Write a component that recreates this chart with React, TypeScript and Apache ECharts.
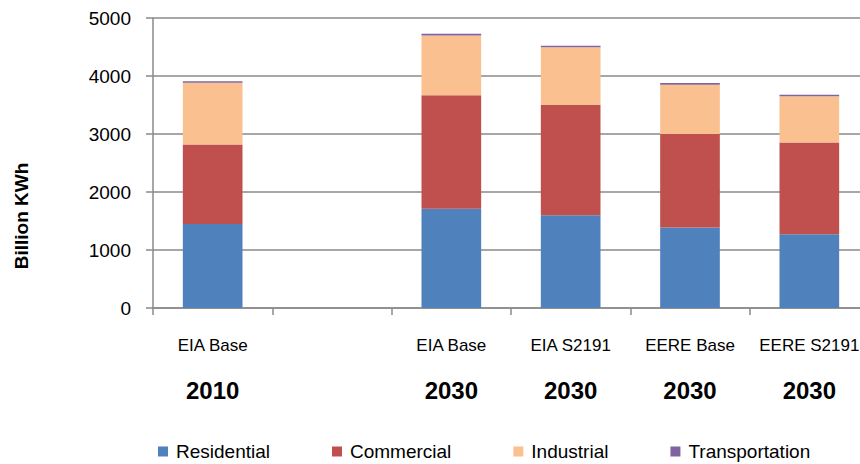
import React, { useEffect, useRef } from "react";
import * as echarts from "echarts";

const scenarios = ["EIA Base", "", "EIA Base", "EIA S2191", "EERE Base", "EERE S2191"];
const years = ["2010", "", "2030", "2030", "2030", "2030"];
const residential = [1450, null, 1710, 1600, 1390, 1270];
const commercial = [1370, null, 1960, 1900, 1610, 1585];
const industrial = [1065, null, 1030, 995, 850, 795];
const transportation = [25, null, 28, 28, 28, 25];
const yTicks = { min: 0, max: 5000, interval: 1000 };

const FONT = "'Liberation Sans', Arial, sans-serif";
const GRID_COLOR = "#8a8a8a";

export default function App() {
  const ref = useRef<HTMLDivElement>(null);
  useEffect(() => {
    if (!ref.current) return;
    const chart = echarts.init(ref.current, null, { renderer: "svg" });
    const mk = (name: string, data: (number | null)[], color: string) => ({
      name,
      type: "bar",
      stack: "total",
      barWidth: "50%",
      data,
      itemStyle: { color },
    });
    chart.setOption({
      animation: false,
      textStyle: { fontFamily: FONT },
      grid: {
        left: 153,
        top: 18,
        width: 716,
        height: 290,
        containLabel: false,
        outerBoundsMode: "none",
      },
      legend: {
        top: 442,
        left: 158,
        padding: 0,
        itemWidth: 10,
        itemHeight: 10,
        itemGap: 62,
        icon: "rect",
        textStyle: { fontSize: 19, color: "#000", fontFamily: FONT, padding: [0, 0, 0, 3] },
        data: ["Residential", "Commercial", "Industrial", "Transportation"],
      },
      xAxis: {
        type: "category",
        data: scenarios,
        boundaryGap: true,
        axisLine: { lineStyle: { color: GRID_COLOR, width: 1.5 } },
        axisTick: { show: true, length: 7, lineStyle: { color: GRID_COLOR, width: 1.5 } },
        axisLabel: {
          interval: 0,
          margin: 17,
          formatter: (v: string, i: number) =>
            v ? `{a|${v}}\n{b|${years[i]}}` : "",
          rich: {
            a: { fontSize: 17, lineHeight: 40, color: "#000", fontFamily: FONT },
            b: { fontSize: 24, fontWeight: "bold", lineHeight: 50, color: "#000", fontFamily: FONT },
          },
        },
      },
      yAxis: {
        type: "value",
        min: yTicks.min,
        max: yTicks.max,
        interval: yTicks.interval,
        axisLine: { show: true, lineStyle: { color: GRID_COLOR, width: 1.5 } },
        axisTick: { show: true, length: 7, lineStyle: { color: GRID_COLOR, width: 1.5 } },
        axisLabel: {
          fontSize: 19,
          color: "#000",
          margin: 22,
          fontFamily: FONT,
          formatter: (v: number) => String(v),
        },
        splitLine: { lineStyle: { color: GRID_COLOR, width: 1.5 } },
      },
      graphic: [
        {
          type: "text",
          x: 21,
          y: 216,
          rotation: Math.PI / 2,
          style: {
            text: "Billion KWh",
            fontSize: 19,
            fontWeight: "bold",
            fill: "#000",
            fontFamily: FONT,
            align: "center",
            verticalAlign: "middle",
          },
        },
      ],
      series: [
        mk("Residential", residential, "#4F81BD"),
        mk("Commercial", commercial, "#C0504D"),
        mk("Industrial", industrial, "#FAC090"),
        mk("Transportation", transportation, "#8064A2"),
      ],
    });
    return () => chart.dispose();
  }, []);
  return (
    <div
      ref={ref}
      style={{ position: "fixed", left: 0, top: 0, width: 860, height: 464, background: "#fff" }}
    />
  );
}
